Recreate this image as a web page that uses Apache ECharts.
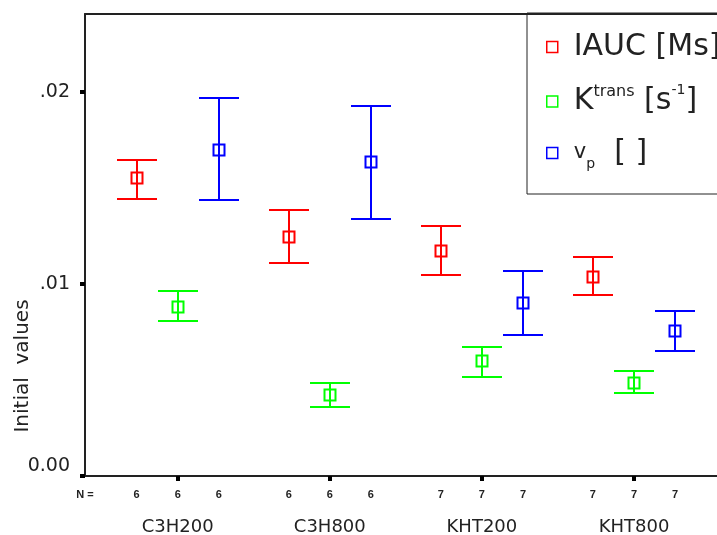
<!DOCTYPE html>
<html>
<head>
<meta charset="utf-8">
<script src="https://cdn.jsdelivr.net/npm/echarts@6/dist/echarts.min.js"></script>
<style>html,body{margin:0;padding:0;background:#fff;}#c{width:717px;height:535px;}</style>
</head>
<body>
<div id="c"></div>
<script>
// ---- data ----
var categories = ['C3H200', 'C3H800', 'KHT200', 'KHT800'];
var nValues = [6, 6, 7, 7];
var seriesNames = ['IAUC [Ms]', 'Ktrans [s-1]', 'vp [ ]'];
var iaucMean  = [0.01551, 0.01246, 0.01174, 0.01038];
var iaucLow   = [0.01444, 0.01111, 0.01048, 0.00943];
var iaucHigh  = [0.01644, 0.01384, 0.01300, 0.01142];
var ktransMean = [0.00882, 0.00422, 0.00599, 0.00486];
var ktransLow  = [0.00809, 0.00359, 0.00516, 0.00432];
var ktransHigh = [0.00964, 0.00483, 0.00672, 0.00545];
var vpMean = [0.01698, 0.01635, 0.00903, 0.00755];
var vpLow  = [0.01436, 0.01340, 0.00734, 0.00651];
var vpHigh = [0.01967, 0.01929, 0.01069, 0.00861];
var yTicks = [0, 0.01, 0.02];
var yTickLabels = ['0.00', '.01', '.02'];

// ---- layout/style ----
var colors = ['#ff0000', '#00ff00', '#0000ff'];
var offsets = [-0.27, 0, 0.27];
var xMin = 0.3905, xMax = 4.5457;
var yMax = 0.0240625;
var axisColor = '#222';

var means = [iaucMean, ktransMean, vpMean];
var lows = [iaucLow, ktransLow, vpLow];
var highs = [iaucHigh, ktransHigh, vpHigh];

function buildData(s) {
  return categories.map(function (c, i) {
    return [i + 1 + offsets[s], means[s][i], lows[s][i], highs[s][i]];
  });
}

function makeRender(color) {
  return function (params, api) {
    var x = api.value(0);
    var pm = api.coord([x, api.value(1)]);
    var pl = api.coord([x, api.value(2)]);
    var ph = api.coord([x, api.value(3)]);
    var cx = Math.round(pm[0]), cy = Math.round(pm[1]);
    var yl = Math.round(pl[1]), yh = Math.round(ph[1]);
    var cap = 20, box = 11;
    var st = { stroke: color, lineWidth: 2, fill: null };
    return {
      type: 'group',
      children: [
        { type: 'line', shape: { x1: cx, y1: yh, x2: cx, y2: yl }, style: st },
        { type: 'line', shape: { x1: cx - cap, y1: yh, x2: cx + cap, y2: yh }, style: st },
        { type: 'line', shape: { x1: cx - cap, y1: yl, x2: cx + cap, y2: yl }, style: st },
        { type: 'rect', shape: { x: cx - 5.5, y: cy - 5.5, width: box, height: box },
          style: { stroke: color, lineWidth: 2, fill: null } }
      ]
    };
  };
}

// N label positions
var nPositions = [xMin], nMap = {};
categories.forEach(function (c, i) {
  offsets.forEach(function (o) {
    var v = i + 1 + o;
    nPositions.push(v);
    nMap[v.toFixed(3)] = String(nValues[i]);
  });
});

var series = seriesNames.map(function (name, s) {
  return {
    name: name,
    type: 'custom',
    xAxisIndex: 0,
    yAxisIndex: 0,
    itemStyle: { color: colors[s] },
    renderItem: makeRender(colors[s]),
    encode: { x: 0, y: [1, 2, 3] },
    data: buildData(s),
    z: 5
  };
});

var richLegend = {
  big: { fontSize: 30, fontFamily: 'DejaVu Sans', color: '#222', lineHeight: 36 },
  sup: { fontSize: 16, fontFamily: 'DejaVu Sans', color: '#222', lineHeight: 22, verticalAlign: 'top' },
  sup2: { fontSize: 14, fontFamily: 'DejaVu Sans', color: '#222', lineHeight: 26, verticalAlign: 'top' },
  v: { fontSize: 21, fontFamily: 'DejaVu Sans', color: '#222', lineHeight: 36 },
  sub: { fontSize: 14, fontFamily: 'DejaVu Sans', color: '#222', lineHeight: 28, verticalAlign: 'bottom' }
};
var legendText = {};
legendText[seriesNames[0]] = '{big|IAUC [Ms]}';
legendText[seriesNames[1]] = '{big|K}{sup|trans}{big| [s}{sup2|-1}{big|]}';
legendText[seriesNames[2]] = '{v|v}{sub|p}{big|  [ ]}';

var baseX = { type: 'value', min: xMin, max: xMax, gridIndex: 0, splitLine: { show: false } };

var option = {
  animation: false,
  backgroundColor: '#fff',
  grid: { left: 85, right: 0, top: 14, bottom: 59, containLabel: false, outerBoundsMode: 'none' },
  legend: {
    orient: 'vertical',
    left: 527,
    top: 13,
    padding: [19, 60, 23, 19],
    itemGap: 21.5,
    itemWidth: 11,
    itemHeight: 11,
    borderColor: axisColor,
    borderWidth: 1,
    selectedMode: false,
    icon: 'rect',
    data: seriesNames.map(function (n, s) {
      return { name: n, icon: 'rect', itemStyle: { color: '#fff', borderColor: colors[s], borderWidth: 1.5 } };
    }),
    formatter: function (name) { return legendText[name]; },
    textStyle: { rich: richLegend, padding: [0, 0, 0, 11] }
  },
  xAxis: [
    Object.assign({}, baseX, {
      position: 'bottom',
      axisLine: { show: true, lineStyle: { color: axisColor, width: 2 } },
      axisTick: { show: true, customValues: [1, 2, 3, 4], length: 5, lineStyle: { color: '#000', width: 4 } },
      axisLabel: {
        show: true, customValues: [1, 2, 3, 4], margin: 42,
        formatter: function (v) { return categories[Math.round(v) - 1] || ''; },
        fontFamily: 'DejaVu Sans', fontSize: 18, color: '#222'
      }
    }),
    Object.assign({}, baseX, {
      position: 'bottom',
      axisLine: { show: false },
      axisTick: { show: false },
      axisLabel: {
        show: true, customValues: nPositions, margin: 13,
        formatter: function (v) {
          if (Math.abs(v - xMin) < 1e-6) return 'N =';
          return nMap[v.toFixed(3)] || '';
        },
        fontFamily: 'Liberation Sans', fontSize: 11, fontWeight: 'bold', color: '#222'
      }
    }),
    Object.assign({}, baseX, {
      position: 'top',
      axisLine: { show: true, lineStyle: { color: axisColor, width: 2 } },
      axisTick: { show: false },
      axisLabel: { show: false }
    })
  ],
  yAxis: [{
    type: 'value',
    min: 0,
    max: yMax,
    splitLine: { show: false },
    axisLine: { show: true, lineStyle: { color: axisColor, width: 2 } },
    axisTick: { show: true, customValues: yTicks, length: 5, lineStyle: { color: '#000', width: 4 } },
    axisLabel: {
      show: true, customValues: yTicks, margin: 15,
      formatter: function (v) {
        for (var i = 0; i < yTicks.length; i++) {
          if (Math.abs(v - yTicks[i]) < 1e-9) return i === 0 ? '{z|' + yTickLabels[i] + '}' : yTickLabels[i];
        }
        return '';
      },
      fontFamily: 'DejaVu Sans', fontSize: 19, color: '#222',
      rich: { z: { fontFamily: 'DejaVu Sans', fontSize: 19, color: '#222', padding: [0, 0, 20, 0] } }
    }
  }],
  graphic: [{
    type: 'text',
    x: 23, y: 366,
    rotation: Math.PI / 2,
    style: { text: 'Initial  values', font: '20px "DejaVu Sans"', fill: '#222', align: 'center', verticalAlign: 'middle' }
  }],
  series: series
};

var chart = echarts.init(document.getElementById('c'), null, { renderer: 'canvas' });
chart.setOption(option);
</script>
</body>
</html>
